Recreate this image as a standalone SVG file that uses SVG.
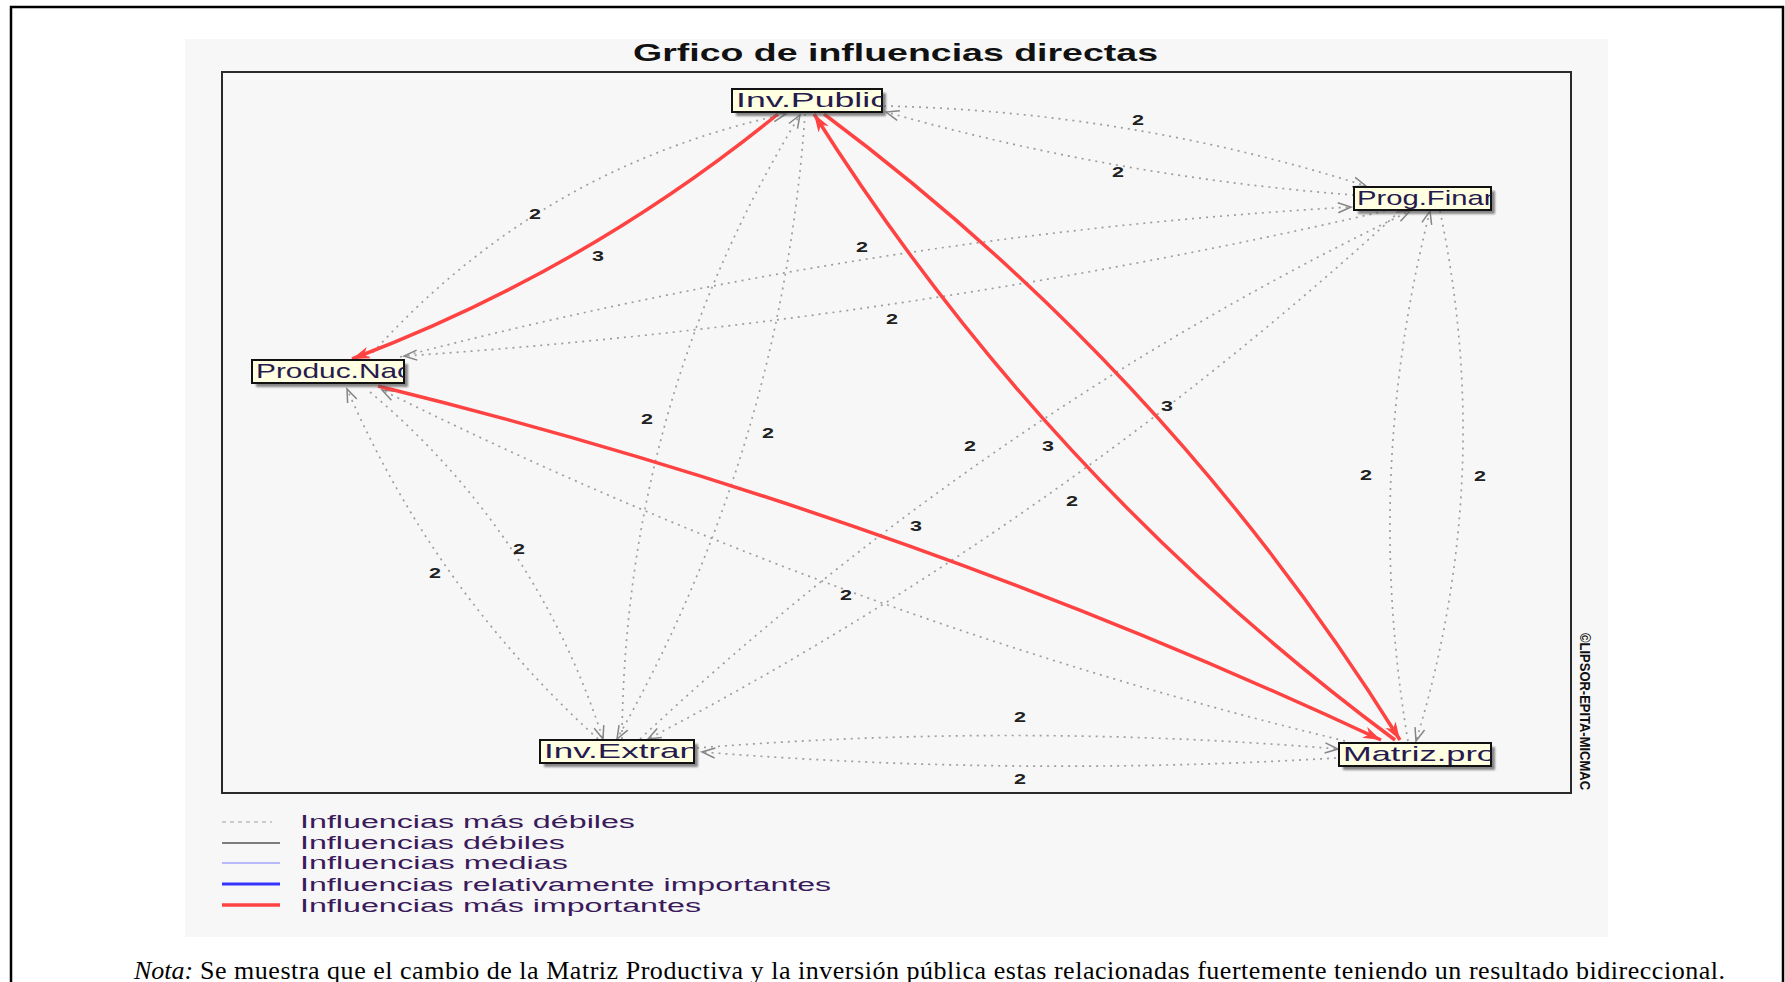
<svg xmlns="http://www.w3.org/2000/svg" width="1785" height="982" viewBox="0 0 1785 982">
<defs>
<style>
.page{fill:#ffffff}
.outer{fill:none;stroke:#000;stroke-width:2.5}
.panel{fill:#f7f7f7}
.plot{fill:none;stroke:#2a2a2a;stroke-width:2}
.w{fill:none;stroke:#9e9e9e;stroke-width:1.7;stroke-dasharray:2 5;marker-end:url(#mg)}
.s{fill:none;stroke:#ff4242;stroke-width:3.5;marker-end:url(#mr)}
.lab{font-family:"Liberation Sans",Arial,sans-serif;font-size:14px;font-weight:bold;fill:#222;text-anchor:middle}
.nshadow{fill:#555;opacity:.7}
.nbox{fill:#ffffe1;stroke:#111;stroke-width:2}
.ntext{font-family:"Liberation Sans",Arial,sans-serif;font-size:21px;fill:#261a4e}
.title{font-family:"Liberation Sans",Arial,sans-serif;font-size:24px;font-weight:bold;fill:#111}
.leg{font-family:"Liberation Sans",Arial,sans-serif;font-size:18px;fill:#3a1a5a}
.note{font-family:"Liberation Serif","Times New Roman",serif;font-size:26px;fill:#000}
.wm{font-family:"Liberation Sans",Arial,sans-serif;font-size:14px;font-weight:bold;fill:#111}
</style>
<marker id="mg" markerUnits="userSpaceOnUse" markerWidth="16" markerHeight="12" refX="14" refY="6" orient="auto" overflow="visible">
<path d="M1,1 L14,6 L1,11" fill="none" stroke="#858585" stroke-width="1.5"/>
</marker>
<marker id="mr" markerUnits="userSpaceOnUse" markerWidth="20" markerHeight="14" refX="18" refY="7" orient="auto" overflow="visible">
<path d="M0,1 L18,7 L0,13 L5,7 Z" fill="#ff4242"/>
</marker>
<filter id="blur" x="-10%" y="-30%" width="120%" height="160%"><feGaussianBlur stdDeviation="1.3"/></filter>
<clipPath id="c-ip"><rect x="732" y="89" width="150" height="23"/></clipPath>
<clipPath id="c-pf"><rect x="1354" y="187" width="137" height="23"/></clipPath>
<clipPath id="c-pn"><rect x="252" y="360" width="152" height="23"/></clipPath>
<clipPath id="c-ie"><rect x="540" y="740" width="154" height="23"/></clipPath>
<clipPath id="c-mp"><rect x="1339" y="743" width="152" height="23"/></clipPath>
</defs>

<rect class="page" x="0" y="0" width="1785" height="982"/>
<rect class="outer" x="11" y="7" width="1772" height="1000"/>
<rect class="panel" x="185" y="39" width="1423" height="898"/>
<rect class="plot" x="222" y="72" width="1349" height="721"/>
<text class="title" x="633" y="61" textLength="525" lengthAdjust="spacingAndGlyphs">Grfico de influencias directas</text>

<g id="connectors">
<path id="e-ip-pf" class="w" d="M884,106 Q1131,111.5 1366,186"/>
<path id="e-pf-ip" class="w" d="M1354,195 Q1116,177 886,112"/>
<path id="e-pn-ip" class="w" d="M368,358 Q537,167 786,114"/>
<path id="e-pn-pf" class="w" d="M400,357 Q868,234.6 1351,207"/>
<path id="e-pf-pn" class="w" d="M1385,211 Q900.3,323 404,356"/>
<path id="e-ie-ip" class="w" d="M622,739 Q624.5,402 800,115"/>
<path id="e-ip-ie" class="w" d="M805,114 Q782,448 617,739"/>
<path id="e-ie-pf" class="w" d="M640,739 Q984,416 1410,211"/>
<path id="e-pf-ie" class="w" d="M1400,211 Q1058.5,524 648,739"/>
<path id="e-mp-pf" class="w" d="M1408,741 Q1363,474 1430,211"/>
<path id="e-pf-mp" class="w" d="M1440,211 Q1496,479 1416,741"/>
<path id="e-pn-ie" class="w" d="M370,392 Q536,532 603,739"/>
<path id="e-ie-pn" class="w" d="M598,739 Q435,591 347,389"/>
<path id="e-mp-pn" class="w" d="M1345,741 Q843.7,620 382,390"/>
<path id="e-ie-mp" class="w" d="M697,748 Q1017.5,722.5 1338,749"/>
<path id="e-mp-ie" class="w" d="M1336,758 Q1019,777 702,752"/>
<path id="e-ip-pn" class="s" d="M778,114 Q585,271 352,359"/>
<path id="e-ip-mp" class="s" d="M824,114 Q1171,373 1400,740"/>
<path id="e-mp-ip" class="s" d="M1395,740 Q1046,481 814,114"/>
<path id="e-pn-mp" class="s" d="M378,386 Q897,514 1381,740"/>
<g id="edge-labels">
<text class="lab" x="1138" y="125" textLength="12" lengthAdjust="spacingAndGlyphs">2</text>
<text class="lab" x="1118" y="177" textLength="12" lengthAdjust="spacingAndGlyphs">2</text>
<text class="lab" x="535" y="219" textLength="12" lengthAdjust="spacingAndGlyphs">2</text>
<text class="lab" x="598" y="261" textLength="12" lengthAdjust="spacingAndGlyphs">3</text>
<text class="lab" x="862" y="252" textLength="12" lengthAdjust="spacingAndGlyphs">2</text>
<text class="lab" x="892" y="324" textLength="12" lengthAdjust="spacingAndGlyphs">2</text>
<text class="lab" x="647" y="424" textLength="12" lengthAdjust="spacingAndGlyphs">2</text>
<text class="lab" x="768" y="438" textLength="12" lengthAdjust="spacingAndGlyphs">2</text>
<text class="lab" x="970" y="451" textLength="12" lengthAdjust="spacingAndGlyphs">2</text>
<text class="lab" x="1048" y="451" textLength="12" lengthAdjust="spacingAndGlyphs">3</text>
<text class="lab" x="1167" y="411" textLength="12" lengthAdjust="spacingAndGlyphs">3</text>
<text class="lab" x="1072" y="506" textLength="12" lengthAdjust="spacingAndGlyphs">2</text>
<text class="lab" x="1366" y="480" textLength="12" lengthAdjust="spacingAndGlyphs">2</text>
<text class="lab" x="1480" y="481" textLength="12" lengthAdjust="spacingAndGlyphs">2</text>
<text class="lab" x="916" y="531" textLength="12" lengthAdjust="spacingAndGlyphs">3</text>
<text class="lab" x="519" y="554" textLength="12" lengthAdjust="spacingAndGlyphs">2</text>
<text class="lab" x="435" y="578" textLength="12" lengthAdjust="spacingAndGlyphs">2</text>
<text class="lab" x="846" y="600" textLength="12" lengthAdjust="spacingAndGlyphs">2</text>
<text class="lab" x="1020" y="722" textLength="12" lengthAdjust="spacingAndGlyphs">2</text>
<text class="lab" x="1020" y="784" textLength="12" lengthAdjust="spacingAndGlyphs">2</text>
</g>
</g>

<g id="node-ip">
<rect class="nshadow" x="736" y="93" width="150" height="23" filter="url(#blur)"/>
<rect class="nbox" x="732" y="89" width="150" height="23"/>
<text class="ntext" x="736" y="107" textLength="152" lengthAdjust="spacingAndGlyphs" clip-path="url(#c-ip)">Inv.Public</text>
</g>
<g id="node-pf">
<rect class="nshadow" x="1358" y="191" width="137" height="23" filter="url(#blur)"/>
<rect class="nbox" x="1354" y="187" width="137" height="23"/>
<text class="ntext" x="1357" y="205" textLength="143" lengthAdjust="spacingAndGlyphs" clip-path="url(#c-pf)">Prog.Finan</text>
</g>
<g id="node-pn">
<rect class="nshadow" x="256" y="364" width="152" height="23" filter="url(#blur)"/>
<rect class="nbox" x="252" y="360" width="152" height="23"/>
<text class="ntext" x="256" y="378" textLength="156" lengthAdjust="spacingAndGlyphs" clip-path="url(#c-pn)">Produc.Nac</text>
</g>
<g id="node-ie">
<rect class="nshadow" x="544" y="744" width="154" height="23" filter="url(#blur)"/>
<rect class="nbox" x="540" y="740" width="154" height="23"/>
<text class="ntext" x="544" y="758" textLength="155" lengthAdjust="spacingAndGlyphs" clip-path="url(#c-ie)">Inv.Extran</text>
</g>
<g id="node-mp">
<rect class="nshadow" x="1343" y="747" width="152" height="23" filter="url(#blur)"/>
<rect class="nbox" x="1339" y="743" width="152" height="23"/>
<text class="ntext" x="1343" y="761" textLength="153" lengthAdjust="spacingAndGlyphs" clip-path="url(#c-mp)">Matriz.pro</text>
</g>

<text class="wm" transform="translate(1580,633) rotate(90)" textLength="157" lengthAdjust="spacingAndGlyphs">©LIPSOR-EPITA-MICMAC</text>

<g id="legend">
<line x1="222" y1="822" x2="272" y2="822" stroke="#bdbdbd" stroke-width="1.5" stroke-dasharray="4 4"/>
<line x1="222" y1="843" x2="280" y2="843" stroke="#555" stroke-width="1.5"/>
<line x1="222" y1="863" x2="280" y2="863" stroke="#7878ff" stroke-width="1"/>
<line x1="222" y1="884" x2="280" y2="884" stroke="#3434ff" stroke-width="3"/>
<line x1="222" y1="905" x2="280" y2="905" stroke="#ff4242" stroke-width="3.5"/>
<text class="leg" x="300" y="828" textLength="335" lengthAdjust="spacingAndGlyphs">Influencias más débiles</text>
<text class="leg" x="300" y="849" textLength="265" lengthAdjust="spacingAndGlyphs">Influencias débiles</text>
<text class="leg" x="300" y="869" textLength="268" lengthAdjust="spacingAndGlyphs">Influencias medias</text>
<text class="leg" x="300" y="891" textLength="531" lengthAdjust="spacingAndGlyphs">Influencias relativamente importantes</text>
<text class="leg" x="300" y="912" textLength="401" lengthAdjust="spacingAndGlyphs">Influencias más importantes</text>
</g>

<text class="note" x="134" y="979" font-style="italic">Nota:</text>
<text class="note" x="200" y="979" textLength="1525" lengthAdjust="spacing">Se muestra que el cambio de la Matriz Productiva y la inversión pública estas relacionadas fuertemente teniendo un resultado bidireccional.</text>
</svg>
